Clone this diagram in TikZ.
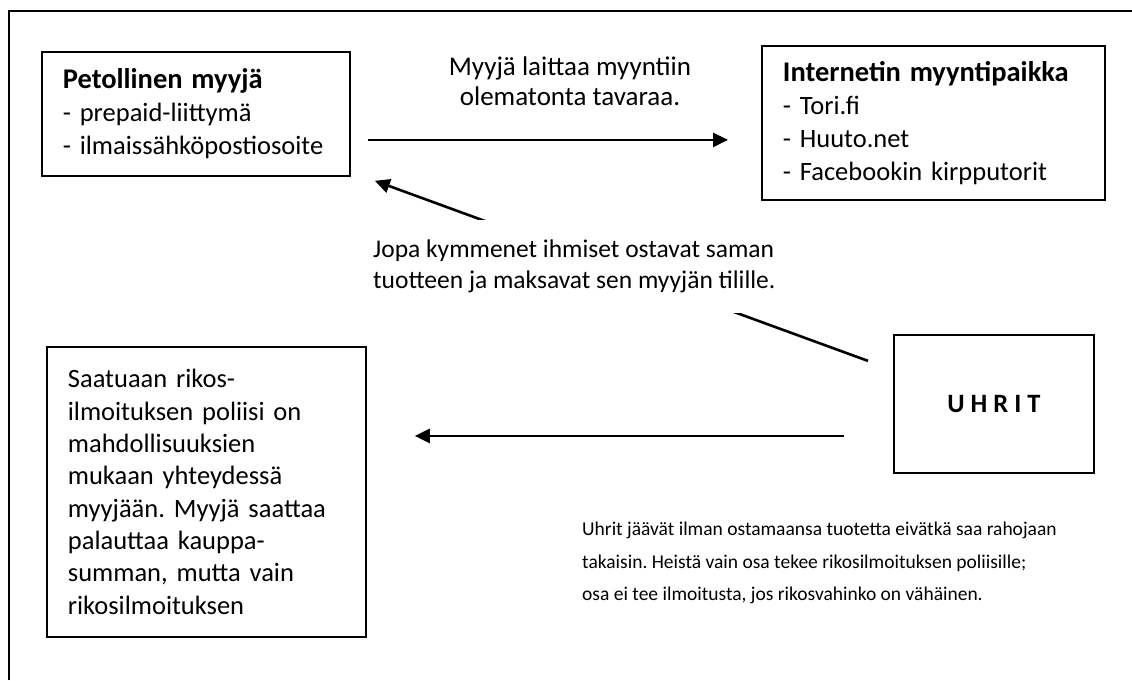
\documentclass[tikz,border=0pt]{standalone}
\usepackage{fontspec}
\setmainfont{Carlito}
\frenchspacing
\usetikzlibrary{arrows.meta}

\begin{document}
\begin{tikzpicture}[x=1pt,y=-1pt]
\tikzset{box/.style={draw,line width=1.8pt,align=left,inner xsep=21pt,inner ysep=0pt,font=\fontsize{26.5}{33}\selectfont}}
\tikzset{arr/.style={line width=2.6pt,-{Triangle[length=15pt,width=14pt]}}}
\newcommand{\kopio}[1]{{\fontsize{28.5}{33}\selectfont\bfseries #1}}
\useasboundingbox (0,0) rectangle (1132,680);
\draw[line width=1.8pt] (9,680) -- (9,11) -- (1132,11);
\node[box,text width=266pt,minimum height=124pt,anchor=north west] (myyja) at (41,51)
    {\kopio{Petollinen myyjä}\\- prepaid-liittymä\\- ilmaissähköpostiosoite};
\node[box,text width=301pt,minimum height=154pt,anchor=north west] (paikka) at (761,45)
    {\kopio{Internetin myyntipaikka}\\- Tori.fi\\- Huuto.net\\- Facebookin kirpputorit};
\node[box,text width=277pt,minimum height=290pt,anchor=north west,font=\fontsize{26.5}{32.3}\selectfont] (poliisi) at (46,346)
    {Saatuaan rikos-\\ilmoituksen poliisi on\\mahdollisuuksien\\mukaan yhteydessä\\myyjään. Myyjä saattaa\\palauttaa kauppa-\\summan, mutta vain\\rikosilmoituksen};
\node[box,align=center,inner xsep=0pt,minimum width=200pt,minimum height=138pt,anchor=north west] (uhrit) at (893,334)
    {\textbf{U H R I T}};
\node[font=\fontsize{27}{30}\selectfont,align=center] (myynti) at (570,81)
    {Myyjä laittaa myyntiin\\olematonta tavaraa.};
\draw[arr] ([shift={(17pt,-26pt)}]myyja.east) -- ([shift={(-33pt,-17pt)}]paikka.west);
\draw[arr] ([shift={(-25pt,43pt)}]uhrit.west) -- ([shift={(24pt,-4pt)}]myyja.south east);
\node[fill=white,font=\fontsize{25.5}{31}\selectfont,align=left,anchor=north west,inner sep=8pt,minimum height=93pt] (ostajat) at (365,220)
    {Jopa kymmenet ihmiset ostavat saman\\tuotteen ja maksavat sen myyjän tilille.};
\draw[arr] ([shift={(-49pt,-32pt)}]uhrit.west) -- ([shift={(48pt,56pt)}]poliisi.east);
\node[font=\fontsize{19.5}{32.5}\selectfont,align=left,anchor=west,inner sep=0pt] (jaavat) at (582,563)
    {Uhrit jäävät ilman ostamaansa tuotetta eivätkä saa rahojaan\\takaisin. Heistä vain osa tekee rikosilmoituksen poliisille;\\osa ei tee ilmoitusta, jos rikosvahinko on vähäinen.};
\end{tikzpicture}
\end{document}
